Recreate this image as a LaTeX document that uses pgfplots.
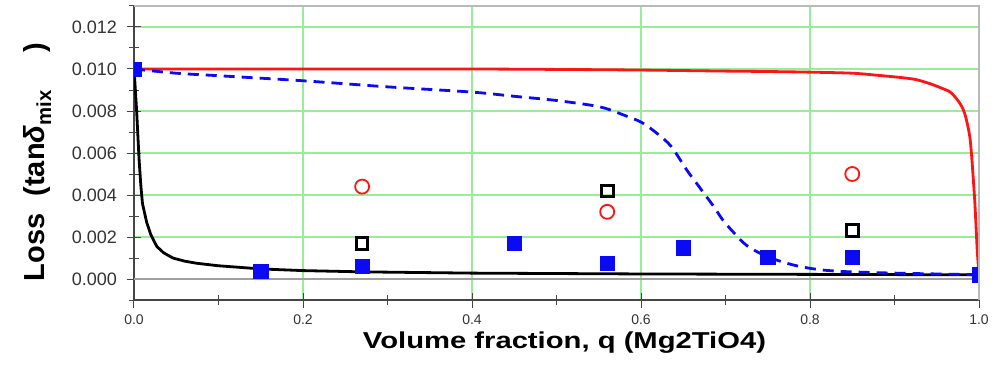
\documentclass[border=0pt]{standalone}
\usepackage{fontspec}
\setmainfont{Liberation Sans}
\usepackage{pgfplots}
\pgfplotsset{compat=1.18}

\definecolor{gridgreen}{RGB}{150,238,150}
\definecolor{lossred}{RGB}{255,20,20}
\definecolor{lossblue}{RGB}{10,10,245}
\definecolor{axisdark}{RGB}{70,70,70}

\begin{document}
\begin{tikzpicture}
\begin{axis}[
  scale only axis,
  width=845pt, height=294pt,
  xmin=0, xmax=1, ymin=-0.001, ymax=0.013,
  axis lines*=left,
  axis line style={axisdark, line width=1.2pt},
  clip marker paths=true,
  xtick={0,0.2,0.4,0.6,0.8,1.0},
  minor xtick={0.1,0.3,0.5,0.7,0.9},
  ytick={0,0.002,0.004,0.006,0.008,0.010,0.012},
  minor ytick={-0.001,0.001,0.003,0.005,0.007,0.009,0.011,0.013},
  tick align=center,
  major tick length=15pt, minor tick length=10pt,
  every tick/.style={axisdark, line width=1pt},
  scaled x ticks=false, scaled y ticks=false,
  xticklabel style={/pgf/number format/fixed, /pgf/number format/zerofill,
    /pgf/number format/precision=1, font=\fontsize{14}{16}\selectfont, text=black!80, yshift=-4pt},
  yticklabel style={/pgf/number format/fixed, /pgf/number format/zerofill,
    /pgf/number format/precision=3, font=\fontsize{18}{20}\selectfont, text=black!80, xshift=-6pt},
  /pgf/number format/assume math mode=true,
  xmajorgrids, ymajorgrids,
  major grid style={gridgreen, line width=1.1pt},
  xlabel={\addfontfeature{FakeStretch=1.27}\bfseries Volume fraction, q (Mg2TiO4)},
  ylabel={\bfseries Loss\hspace{0.6em}(tan\textit{δ}\textsubscript{mix}\hspace{1.3em})},
  xlabel style={font=\fontsize{23}{26}\selectfont, yshift=0pt, xshift=8pt},
  ylabel style={font=\fontsize{29}{32}\selectfont, yshift=14pt, xshift=-9pt},
]
\coordinate (bl) at (rel axis cs:0,0);
\coordinate (tr) at (rel axis cs:1,1);

% zero reference line
\addplot[gray!75, line width=2pt, forget plot] coordinates {(0,0) (1,0)};

% model curves
\addplot[lossred, line width=2.8pt, smooth] coordinates {
 (0,0.0100) (0.1,0.0100) (0.2,0.0100) (0.3,0.0100) (0.4,0.0100) (0.5,0.00998)
 (0.6,0.00995) (0.7,0.0099) (0.75,0.00988) (0.8,0.00985) (0.85,0.0098)
 (0.88,0.0097) (0.906,0.0096) (0.925,0.0095) (0.942,0.0093) (0.955,0.0091)
 (0.966,0.0089) (0.975,0.0085) (0.981,0.0081) (0.985,0.0076) (0.989,0.0068)
 (0.991,0.0060) (0.993,0.0049) (0.995,0.0037) (0.9965,0.0025) (0.998,0.0013)
 (1.0,0.0002)};

\addplot[black, line width=2.8pt] coordinates {
 (0,0.0100) (0.001,0.0094) (0.003,0.0081) (0.006,0.0057) (0.008,0.0045)
 (0.010,0.0036) (0.015,0.0027) (0.02,0.0021) (0.027,0.00155) (0.035,0.00125)
 (0.046,0.0010) (0.06,0.00085) (0.074,0.00075) (0.1,0.00063) (0.15,0.00048)
 (0.2,0.0004) (0.27,0.00034) (0.4,0.00028) (0.5,0.00026) (0.6,0.00024)
 (0.8,0.00022) (1.0,0.0002)};

\addplot[lossblue, line width=2.8pt, dash pattern=on 11pt off 7pt, smooth] coordinates {
 (0,0.0100) (0.05,0.0098) (0.1,0.00968) (0.2,0.00944) (0.3,0.00915)
 (0.4,0.0089) (0.45,0.0087) (0.5,0.0085) (0.551,0.0082) (0.58,0.0078)
 (0.601,0.00745) (0.62,0.0069) (0.636,0.0063) (0.654,0.0052) (0.665,0.0046)
 (0.676,0.0040) (0.687,0.0034) (0.697,0.0028) (0.71,0.0022) (0.725,0.0016)
 (0.749,0.00107) (0.78,0.00067) (0.81,0.00045) (0.843,0.00035) (0.9,0.00028)
 (0.95,0.00024) (1.0,0.0002)};

% measured values
\addplot[only marks, mark=square*, mark size=7.2pt, lossblue, mark options={draw=none, fill=lossblue}] coordinates {
 (0,0.0100) (0.15,0.00038) (0.27,0.00062) (0.45,0.0017) (0.56,0.00076)
 (0.65,0.0015) (0.75,0.00105) (0.85,0.00105) (1.0,0.0002)};

\addplot[only marks, mark=square, mark size=5.8pt, black, mark options={line width=3pt, fill=white}] coordinates {
 (0.27,0.0017) (0.56,0.0042) (0.85,0.0023)};

\addplot[only marks, mark=o, mark size=7pt, lossred, mark options={line width=1.8pt}] coordinates {
 (0.27,0.0044) (0.56,0.0032) (0.85,0.0050)};
\end{axis}
% light frame on the top and right sides
\draw[gray!55, line width=1.5pt] (bl -| tr) -- (tr) -- (tr -| bl);
\pgfresetboundingbox
\path ([shift={(-134pt,-75pt)}]bl) rectangle ([shift={(19pt,6pt)}]tr);
\end{tikzpicture}
\end{document}
